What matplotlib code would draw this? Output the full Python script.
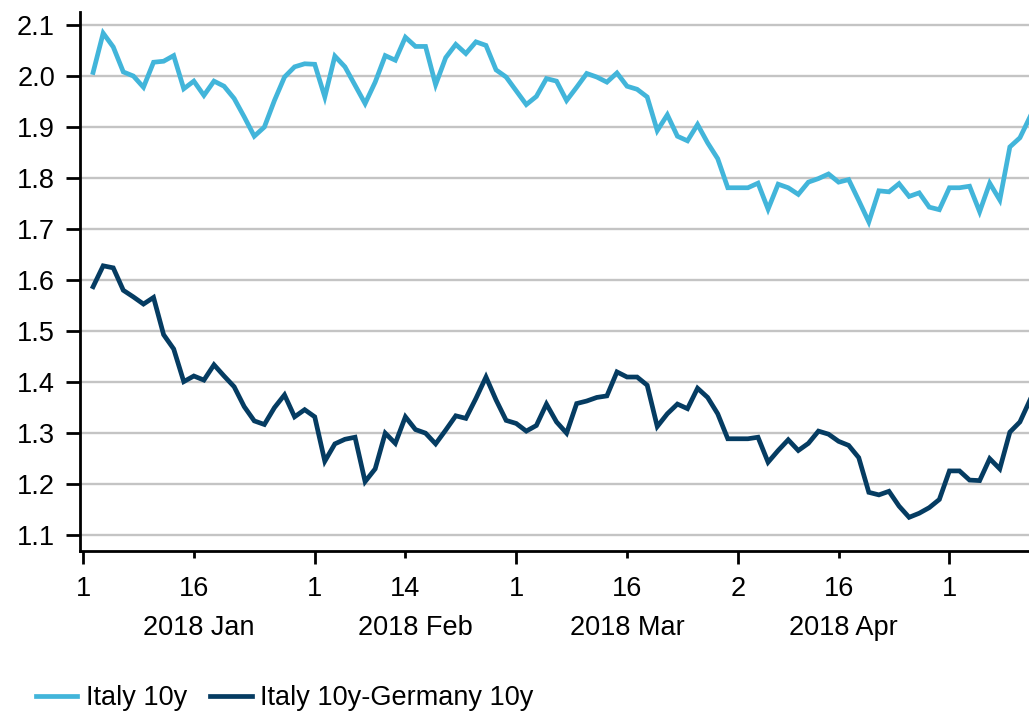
import numpy as np
import pandas as pd
import matplotlib
matplotlib.use("Agg")
import matplotlib.pyplot as plt
from matplotlib.lines import Line2D

plt.rcParams['font.family'] = ['Liberation Sans', 'DejaVu Sans']

# ---------------- data ----------------
start_date = '2018-01-02'

italy_10y = [
    2.007, 2.084, 2.057, 2.008, 2.000, 1.978, 2.027, 2.029, 2.040, 1.975, 1.990, 1.962,
    1.990, 1.980, 1.956, 1.920, 1.882, 1.900, 1.952, 1.998, 2.018, 2.024, 2.023, 1.959,
    2.039, 2.018, 1.982, 1.946, 1.988, 2.040, 2.031, 2.076, 2.058, 2.058, 1.983, 2.036,
    2.062, 2.044, 2.067, 2.060, 2.012, 1.998, 1.971, 1.944, 1.960, 1.995, 1.990, 1.952,
    1.978, 2.005, 1.998, 1.988, 2.006, 1.980, 1.974, 1.959, 1.893, 1.924, 1.882, 1.873,
    1.905, 1.869, 1.838, 1.781, 1.781, 1.781, 1.790, 1.739, 1.788, 1.781,
    1.768, 1.792, 1.799, 1.808, 1.792, 1.797, 1.756, 1.714, 1.775, 1.773, 1.789, 1.764,
    1.771, 1.743, 1.738, 1.781, 1.781, 1.784, 1.734, 1.790, 1.757, 1.861, 1.879, 1.920,
]

italy_germany_spread = [
    1.587, 1.628, 1.624, 1.580, 1.567, 1.553, 1.566, 1.493, 1.465, 1.401, 1.412, 1.404,
    1.434, 1.412, 1.391, 1.352, 1.324, 1.317, 1.350, 1.375, 1.332, 1.346, 1.332, 1.245,
    1.279, 1.288, 1.292, 1.205, 1.230, 1.300, 1.280, 1.332, 1.307, 1.300, 1.279, 1.306,
    1.334, 1.329, 1.368, 1.410, 1.365, 1.325, 1.319, 1.304, 1.315, 1.357, 1.322, 1.300,
    1.358, 1.363, 1.370, 1.373, 1.420, 1.410, 1.410, 1.394, 1.313, 1.338, 1.357, 1.348,
    1.388, 1.370, 1.338, 1.289, 1.289, 1.289, 1.292, 1.243, 1.266, 1.287,
    1.266, 1.280, 1.304, 1.298, 1.284, 1.276, 1.252, 1.184, 1.179, 1.186, 1.157, 1.135,
    1.143, 1.154, 1.170, 1.226, 1.226, 1.208, 1.207, 1.250, 1.230, 1.302, 1.322, 1.365,
]

series_names = ['Italy 10y', 'Italy 10y-Germany 10y']
series_colors = ['#42B5DA', '#053C62']

major_tick_dates = ['2018-01-01', '2018-02-01', '2018-03-01', '2018-04-02', '2018-05-01']
major_tick_labels = ['1', '1', '1', '2', '1']
minor_tick_dates = ['2018-01-16', '2018-02-14', '2018-03-16', '2018-04-16']
minor_tick_labels = ['16', '14', '16', '16']
month_starts = ['2018-01-01', '2018-02-01', '2018-03-01', '2018-04-01', '2018-05-01']
month_labels = ['2018 Jan', '2018 Feb', '2018 Mar', '2018 Apr']

y_ticks = [1.1, 1.2, 1.3, 1.4, 1.5, 1.6, 1.7, 1.8, 1.9, 2.0, 2.1]

# ---------------- helpers ----------------
start = np.datetime64(start_date, 'D')
dates = pd.bdate_range(start_date, periods=len(italy_10y))
x = np.busday_count(start, dates.values.astype('datetime64[D]'))


def bpos(d):
    return float(np.busday_count(start, np.datetime64(d, 'D')))


# ---------------- figure ----------------
W, H = 1029, 712
fig = plt.figure(figsize=(W / 100, H / 100), dpi=100)
ax_left = 80 / W
ax_bottom = (H - 551) / H
ax_top_px = 12
ax_h_px = 551 - ax_top_px
ax = fig.add_axes([ax_left, ax_bottom, 1 - ax_left, ax_h_px / H])

for vals, c in zip([italy_10y, italy_germany_spread], series_colors):
    ax.plot(x, vals, color=c, lw=3.4, solid_joinstyle='miter', zorder=3)

ax.set_ylim(1.069, 2.0 + (76 - ax_top_px) / 510)
ax.set_xlim(-1.3, 92.9)

ax.set_yticks(y_ticks)
ax.set_yticklabels([f'{v:.1f}' for v in y_ticks])
ax.yaxis.grid(True, color='#C4C4C4', lw=1.7, zorder=0)
ax.set_axisbelow(True)

ax.set_xticks([bpos(d) for d in major_tick_dates], major_tick_labels)
ax.set_xticks([bpos(d) for d in minor_tick_dates], minor_tick_labels, minor=True)

for s in ['top', 'right']:
    ax.spines[s].set_visible(False)
for s in ['left', 'bottom']:
    ax.spines[s].set_linewidth(2.0)
    ax.spines[s].set_color('black')

fs = 19.5
ax.tick_params(axis='y', which='major', length=10, width=2.0, pad=8, labelsize=fs)
ax.tick_params(axis='x', which='major', length=9.4, width=2.0, pad=8.5, labelsize=fs)
ax.tick_params(axis='x', which='minor', length=5.0, width=2.0, pad=12.9, labelsize=fs)

# month labels centred on each month span
ms = [bpos(d) for d in month_starts]
for i, lab in enumerate(month_labels):
    mid = (ms[i] + ms[i + 1]) / 2
    ax.text(mid, -(628 - 551) / ax_h_px, lab, transform=ax.get_xaxis_transform(),
            ha='center', va='center', fontsize=fs)

handles = [Line2D([], [], color=c, lw=3.4) for c in series_colors]
fig.legend(handles, series_names, loc='lower left', bbox_to_anchor=(36 / W, 1 / H),
           ncol=2, frameon=False, fontsize=fs, handlelength=1.52, handletextpad=0.33,
           columnspacing=0.85, borderpad=0, borderaxespad=0)

fig.savefig('out.png', dpi=100)
